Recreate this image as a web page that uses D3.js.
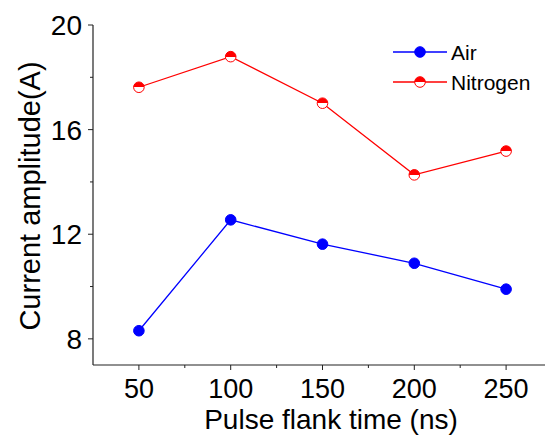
<!DOCTYPE html>
<html>
<head>
<meta charset="utf-8">
<script src="https://cdn.jsdelivr.net/npm/d3@7"></script>
<style>
  body { margin: 0; background: #fff; }
  svg text { font-family: "Liberation Sans", Arial, sans-serif; fill: #000; }
</style>
</head>
<body>
<div id="chart"></div>
<script>
// values
var flankTimes = [50, 100, 150, 200, 250];
var airCurrent = [8.31, 12.55, 11.62, 10.89, 9.90];
var nitrogenCurrent = [17.62, 18.79, 17.01, 14.27, 15.18];
var xTicks = [50, 100, 150, 200, 250];
var xMinor = [75, 125, 175, 225];
var yTicks = [8, 12, 16, 20];
var yMinor = [10, 14, 18];

var width = 545, height = 436;
var margin = {left: 93, top: 25, right: -7, bottom: 71};

var svg = d3.select("#chart").append("svg")
    .attr("width", width)
    .attr("height", height);

var x = d3.scaleLinear().domain([25, 275]).range([margin.left, width - margin.right]);
var y = d3.scaleLinear().domain([7, 20]).range([height - margin.bottom, margin.top]);

var plotBottom = height - margin.bottom;

// x axis
var xAxis = svg.append("g").attr("transform", "translate(0," + plotBottom + ")");
xAxis.append("line")
    .attr("x1", margin.left).attr("x2", width)
    .attr("stroke", "#222").attr("stroke-width", 1.2);
xAxis.selectAll("line.minor")
    .data(xMinor)
    .enter().append("line")
    .attr("class", "minor")
    .attr("x1", function(d) { return x(d); }).attr("x2", function(d) { return x(d); })
    .attr("y1", 0).attr("y2", 3)
    .attr("stroke", "#222");
xAxis.selectAll("line.major")
    .data(xTicks)
    .enter().append("line")
    .attr("class", "major")
    .attr("x1", function(d) { return x(d); }).attr("x2", function(d) { return x(d); })
    .attr("y1", 0).attr("y2", 5)
    .attr("stroke", "#222");
xAxis.selectAll("text")
    .data(xTicks)
    .enter().append("text")
    .attr("x", function(d) { return x(d); })
    .attr("y", 33)
    .attr("text-anchor", "middle")
    .style("font-size", "27px")
    .text(function(d) { return d; });

// y axis
var yAxis = svg.append("g").attr("transform", "translate(" + margin.left + ",0)");
yAxis.append("line")
    .attr("y1", y(20)).attr("y2", plotBottom)
    .attr("stroke", "#222").attr("stroke-width", 1.2);
yAxis.selectAll("line.minor")
    .data(yMinor)
    .enter().append("line")
    .attr("class", "minor")
    .attr("y1", function(d) { return y(d); }).attr("y2", function(d) { return y(d); })
    .attr("x1", 0).attr("x2", -3)
    .attr("stroke", "#222");
yAxis.selectAll("line.major")
    .data(yTicks)
    .enter().append("line")
    .attr("class", "major")
    .attr("y1", function(d) { return y(d); }).attr("y2", function(d) { return y(d); })
    .attr("x1", 0).attr("x2", -5)
    .attr("stroke", "#222");
yAxis.selectAll("text")
    .data(yTicks)
    .enter().append("text")
    .attr("x", -11)
    .attr("y", function(d) { return y(d); })
    .attr("dy", "0.36em")
    .attr("text-anchor", "end")
    .style("font-size", "28px")
    .text(function(d) { return d; });

// axis titles
svg.append("text")
    .attr("x", 331).attr("y", 429)
    .attr("text-anchor", "middle")
    .style("font-size", "28px")
    .text("Pulse flank time (ns)");

svg.append("text")
    .attr("transform", "translate(40,196) rotate(-90)")
    .attr("text-anchor", "middle")
    .style("font-size", "29px")
    .text("Current amplitude(A)");

// half-filled marker for nitrogen
var defs = svg.append("defs");
var grad = defs.append("linearGradient")
    .attr("id", "halfRed")
    .attr("x1", 0).attr("y1", 0).attr("x2", 0).attr("y2", 1);
grad.append("stop").attr("offset", "50%").attr("stop-color", "#ff0000");
grad.append("stop").attr("offset", "50%").attr("stop-color", "#ffffff");

var line = d3.line()
    .x(function(d, i) { return x(flankTimes[i]); })
    .y(function(d) { return y(d); });

var series = [
    {name: "Air", values: airCurrent, color: "#0000ff", fill: "#0000ff"},
    {name: "Nitrogen", values: nitrogenCurrent, color: "#ff0000", fill: "url(#halfRed)"}
];

series.forEach(function(s) {
    svg.append("path")
        .datum(s.values)
        .attr("d", line)
        .attr("fill", "none")
        .attr("stroke", s.color)
        .attr("stroke-width", 1.3);
    svg.selectAll(null)
        .data(s.values)
        .enter().append("circle")
        .attr("cx", function(d, i) { return x(flankTimes[i]); })
        .attr("cy", function(d) { return y(d); })
        .attr("r", 5.3)
        .attr("fill", s.fill)
        .attr("stroke", s.color)
        .attr("stroke-width", 1);
});

// legend
var legend = svg.append("g");
series.forEach(function(s, i) {
    var ly = 52 + i * 30;
    legend.append("line")
        .attr("x1", 393).attr("x2", 447)
        .attr("y1", ly).attr("y2", ly)
        .attr("stroke", s.color).attr("stroke-width", 1.3);
    legend.append("circle")
        .attr("cx", 420).attr("cy", ly)
        .attr("r", 5.3)
        .attr("fill", s.fill)
        .attr("stroke", s.color)
        .attr("stroke-width", 1);
    legend.append("text")
        .attr("x", 451).attr("y", ly)
        .attr("dy", "0.36em")
        .style("font-size", "21px")
        .text(s.name);
});
</script>
</body>
</html>
